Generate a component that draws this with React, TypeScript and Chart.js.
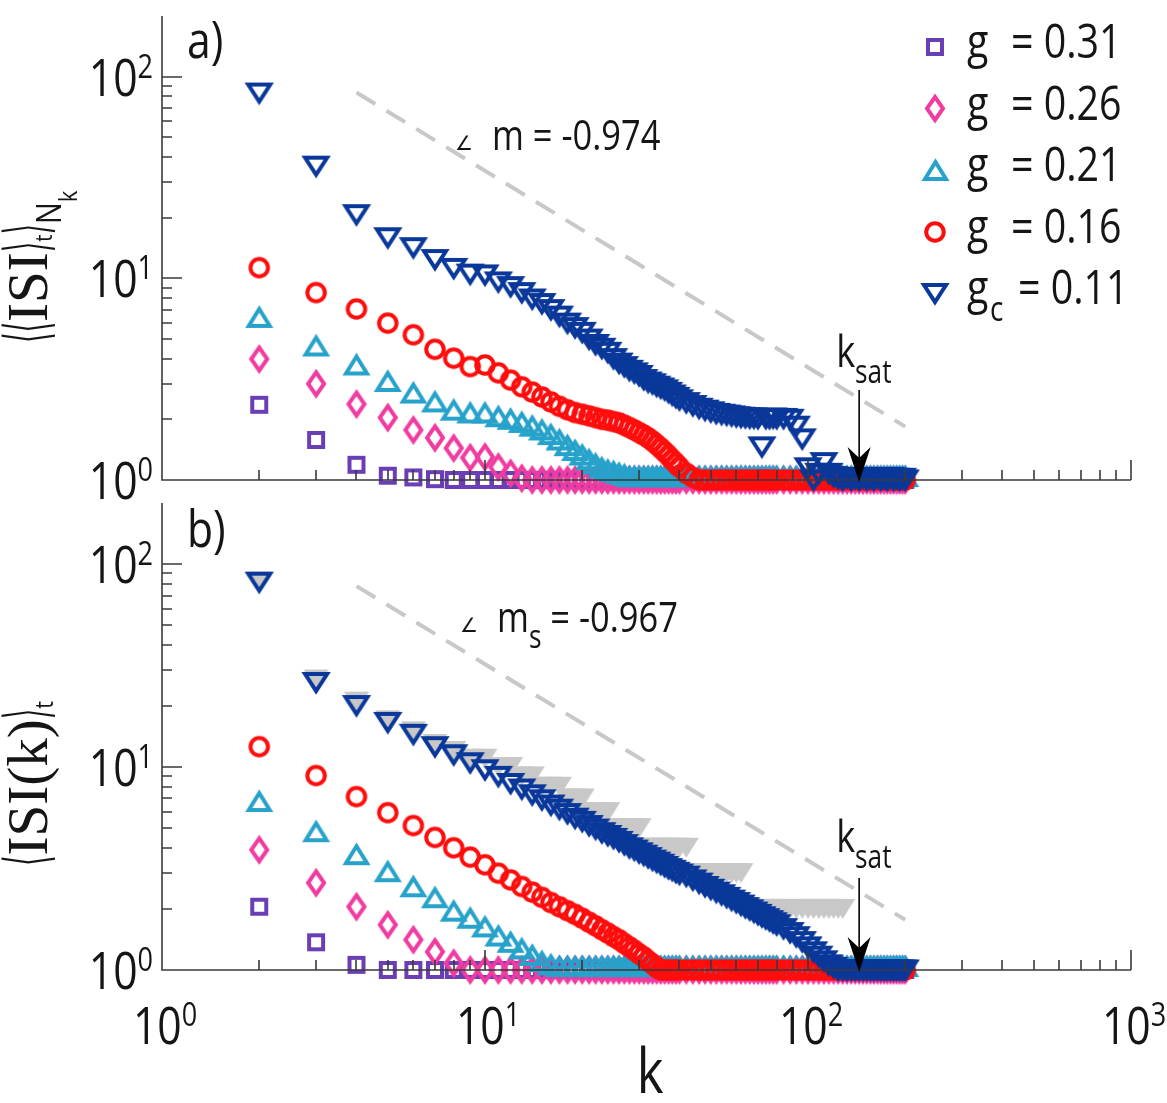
import React, { useEffect, useRef } from "react";
import { Chart, registerables } from "chart.js";

Chart.register(...registerables);

// ---------------- data ----------------
const K = [
  2, 3, 4, 5, 6, 7, 8, 9, 10, 11, 12, 13, 14, 15, 16, 17, 18, 19, 20, 21, 22, 23, 24, 25, 26, 27, 28, 29, 30, 31, 32, 33, 34, 35, 36, 37, 38, 39, 40,
  42, 44, 46, 48, 50, 52, 54, 56, 58, 60, 62, 64, 66, 68, 70, 72, 74, 76, 78, 80,
  84, 88, 92, 96, 100, 104, 108, 112, 116, 120, 124, 128, 132, 136, 140, 144, 148, 152, 156, 160, 164, 168, 172, 176, 180, 184, 188, 192, 196, 200,
];

// panel a)  <<ISI>_t>_{N_k}
const topPurple = [
  2.36, 1.58, 1.19, 1.05, 1.03, 1.01, 1, 1, 1,
  1, 1, 1, 1, 1, 1, 1, 1, 1, 1, 1, 1, 1, 1, 1, 1, 1, 1, 1, 1, 1, 1, 1, 1, 1, 1, 1, 1, 1, 1,
  1, 1, 1, 1, 1, 1, 1, 1, 1, 1, 1, 1, 1, 1, 1, 1, 1, 1, 1, 1,
  1, 1, 1, 1, 1, 1, 1, 1, 1, 1, 1, 1, 1, 1, 1, 1, 1, 1, 1, 1, 1, 1, 1, 1, 1, 1, 1, 1, 1, 1,
];
const topPink = [
  3.98, 3.0, 2.38, 2.04, 1.77, 1.62, 1.44, 1.29, 1.3, 1.16, 1.08, 1.02, 1,
  1, 1, 1, 1, 1, 1, 1, 1, 1, 1, 1, 1, 1, 1, 1, 1, 1, 1, 1, 1, 1, 1, 1, 1, 1, 1,
  1, 1, 1, 1, 1, 1, 1, 1, 1, 1, 1, 1, 1, 1, 1, 1, 1, 1, 1, 1,
  1, 1, 1, 1, 1, 1, 1, 1, 1, 1, 1, 1, 1, 1, 1, 1, 1, 1, 1, 1, 1, 1, 1, 1, 1, 1, 1, 1, 1, 1,
];
const topCyan = [
  6.4, 4.62, 3.72, 3.08, 2.7, 2.44, 2.22, 2.15, 2.15, 2.06, 2.0, 1.93, 1.85, 1.77, 1.68, 1.58, 1.48, 1.4, 1.33, 1.26, 1.2, 1.15, 1.12, 1.1, 1.08, 1.06,
  1.04, 1.04, 1.04, 1.04, 1.04, 1.04, 1.04, 1.04, 1.04, 1.04, 1.04, 1.04, 1.04,
  1.04, 1.04, 1.04, 1.04, 1.04, 1.04, 1.04, 1.04, 1.04, 1.04, 1.04, 1.04, 1.04, 1.04, 1.04, 1.04, 1.04, 1.04, 1.04, 1.04,
  1.04, 1.04, 1.04, 1.04, 1.04, 1.04, 1.04, 1.04, 1.04, 1.04, 1.04, 1.04, 1.04, 1.04, 1.04, 1.04, 1.04, 1.04, 1.04, 1.04, 1.04, 1.04, 1.04, 1.04, 1.04, 1.04, 1.04, 1.04, 1.04, 1.04,
];
const topRed = [
  11.3, 8.5, 7.05, 6.0, 5.25, 4.45, 4.02, 3.65, 3.72, 3.4,
  3.13, 2.9, 2.73, 2.58, 2.44, 2.32, 2.23, 2.16, 2.12, 2.08,
  2.04, 2.0, 1.98, 1.95, 1.92, 1.87, 1.82, 1.77, 1.72, 1.67,
  1.62, 1.56, 1.5, 1.44, 1.38, 1.32, 1.26, 1.21, 1.16,
  1.08, 1.03, 1, 1, 1, 1, 1, 1, 1, 1, 1, 1, 1, 1, 1, 1, 1, 1, 1, 1,
  1, 1, 1, 1, 1, 1, 1, 1, 1, 1, 1, 1, 1, 1, 1, 1, 1, 1, 1, 1, 1, 1, 1, 1, 1, 1, 1, 1, 1, 1,
];
const topBlue = [
  83, 36, 20.7, 15.9, 14.2, 12.4, 11.2, 10.5, 10.4, 9.6,
  9.1, 8.5, 7.9, 7.5, 7.0, 6.5, 6.0, 5.7, 5.4, 5.0,
  4.7, 4.5, 4.3, 4.0, 3.8, 3.65, 3.5, 3.4, 3.3, 3.15,
  3.06, 3.0, 2.92, 2.86, 2.8, 2.72, 2.64, 2.57, 2.5,
  2.42, 2.34, 2.27, 2.22, 2.18, 2.14, 2.12, 2.1, 2.08, 2.06, 2.05, 2.04, 2.03, 2.03, 2.02, 1.46, 2.02, 2.02, 2.03, 2.02,
  2.02, 2.0, 1.85, 1.6, 1.15, 1.0, 1.08, 1.22, 1.08, 1.04, 1.02, 1.0, 1.03, 1.0, 1.02, 1.0, 1.03, 1.0, 1.02, 1.0,
  1.03, 1.0, 1.02, 1.0, 1.03, 1.0, 1.02, 1.0, 1.02, 1.0,
];

// panel b)  <ISI(k)>_t
const botPurple = [
  2.05, 1.37, 1.06,
  1, 1, 1, 1, 1, 1, 1, 1, 1, 1, 1, 1, 1, 1, 1, 1, 1, 1, 1, 1, 1, 1, 1, 1, 1, 1, 1, 1, 1, 1, 1, 1, 1, 1, 1, 1,
  1, 1, 1, 1, 1, 1, 1, 1, 1, 1, 1, 1, 1, 1, 1, 1, 1, 1, 1, 1,
  1, 1, 1, 1, 1, 1, 1, 1, 1, 1, 1, 1, 1, 1, 1, 1, 1, 1, 1, 1, 1, 1, 1, 1, 1, 1, 1, 1, 1, 1,
];
const botPink = [
  3.91, 2.69, 2.05, 1.67, 1.41, 1.23, 1.08, 1.0,
  1, 1, 1, 1, 1, 1, 1, 1, 1, 1, 1, 1, 1, 1, 1, 1, 1, 1, 1, 1, 1, 1, 1, 1, 1, 1, 1, 1, 1, 1, 1,
  1, 1, 1, 1, 1, 1, 1, 1, 1, 1, 1, 1, 1, 1, 1, 1, 1, 1, 1, 1,
  1, 1, 1, 1, 1, 1, 1, 1, 1, 1, 1, 1, 1, 1, 1, 1, 1, 1, 1, 1, 1, 1, 1, 1, 1, 1, 1, 1, 1, 1,
];
const botCyan = [
  6.76, 4.8, 3.7, 3.05, 2.57, 2.27, 1.95, 1.8, 1.63, 1.47, 1.37, 1.27, 1.18, 1.1, 1.06,
  1.04, 1.04, 1.04, 1.04, 1.04, 1.04, 1.04, 1.04, 1.04, 1.04, 1.04, 1.04, 1.04, 1.04, 1.04, 1.04, 1.04, 1.04, 1.04, 1.04, 1.04, 1.04, 1.04, 1.04,
  1.04, 1.04, 1.04, 1.04, 1.04, 1.04, 1.04, 1.04, 1.04, 1.04, 1.04, 1.04, 1.04, 1.04, 1.04, 1.04, 1.04, 1.04, 1.04, 1.04,
  1.04, 1.04, 1.04, 1.04, 1.04, 1.04, 1.04, 1.04, 1.04, 1.04, 1.04, 1.04, 1.04, 1.04, 1.04, 1.04, 1.04, 1.04, 1.04, 1.04, 1.04, 1.04, 1.04, 1.04, 1.04, 1.04, 1.04, 1.04, 1.04, 1.04,
];
const botRed = [
  12.6, 9.08, 7.15, 5.96, 5.15, 4.5, 4.0, 3.6, 3.3, 3.0,
  2.78, 2.58, 2.42, 2.28, 2.15, 2.05, 1.96, 1.88, 1.8, 1.72,
  1.65, 1.58, 1.52, 1.46, 1.41, 1.35, 1.3, 1.25, 1.2, 1.16,
  1.11, 1.07, 1.03, 1.0, 1, 1, 1, 1, 1,
  1, 1, 1, 1, 1, 1, 1, 1, 1, 1, 1, 1, 1, 1, 1, 1, 1, 1, 1, 1,
  1, 1, 1, 1, 1, 1, 1, 1, 1, 1, 1, 1, 1, 1, 1, 1, 1, 1, 1, 1, 1, 1, 1, 1, 1, 1, 1, 1, 1, 1,
];
const botBlue = [
  81.5, 26.1, 20.1, 16.6, 14.5, 12.6, 11.5, 10.5, 9.7, 9.0,
  8.3, 7.8, 7.3, 6.9, 6.5, 6.2, 5.9, 5.6, 5.4, 5.15,
  4.95, 4.75, 4.6, 4.45, 4.3, 4.15, 4.0, 3.9, 3.78, 3.68,
  3.58, 3.48, 3.4, 3.32, 3.24, 3.16, 3.1, 3.03, 2.97,
  2.9, 2.78, 2.68, 2.58, 2.5, 2.42, 2.35, 2.28, 2.21, 2.15, 2.09, 2.03, 1.98, 1.93, 1.88, 1.83, 1.79, 1.75, 1.71, 1.67,
  1.6, 1.53, 1.46, 1.38, 1.3, 1.23, 1.17, 1.11, 1.06, 1.03, 1.0,
  1, 1, 1, 1, 1, 1, 1, 1, 1, 1, 1, 1, 1, 1, 1, 1, 1, 1, 1,
];
const botGray = [
  82, 27, 21, 17, 15, 13, 12, 11, 11, 10,
  10, 9, 9, 8, 8, 8, 7, 7, 7, 6,
  6, 6, 6, 5, 5, 5, 5, 5, 5, 4,
  4, 4, 4, 4, 4, 4, 4, 4, 4,
  4, 3, 3, 3, 3, 3, 3, 3, 3, 3, 3, 2, 2, 2, 2, 2, 2, 2, 2, 2,
  2, 2, 2, 2, 2, 2, 2, 2, 2, 2, 2, 2,
  1, 1, 1, 1, 1, 1, 1, 1, 1, 1, 1, 1, 1, 1, 1, 1, 1, 1,
];

// fitted power laws (dashed guides)
const fitK = [4, 200];
const fitTop = [83.5, 1.84];
const fitBot = [77.9, 1.77];
const slopeTop = "-0.974";
const slopeBot = "-0.967";
const kSat = 144;

// legend
const legSym = ["g", "g", "g", "g", "g"];
const legSub = ["", "", "", "", "c"];
const legVal = ["0.31", "0.26", "0.21", "0.16", "0.11"];

// ticks
const xMajor = [1, 10, 100, 1000];
const xExp = ["0", "1", "2", "3"];
const xMinor = [2, 3, 4, 5, 6, 7, 8, 9, 20, 30, 40, 50, 60, 70, 80, 90, 200, 300, 400, 500, 600, 700, 800, 900];
const yMajor = [1, 10, 100];
const yExp = ["0", "1", "2"];
const yMinor = [2, 3, 4, 5, 6, 7, 8, 9, 20, 30, 40, 50, 60, 70, 80, 90];

// ---------------- styles ----------------
const C_PURPLE = "#6a3fb5";
const C_PINK = "#f03ca0";
const C_CYAN = "#27a2cb";
const C_RED = "#ff0d0d";
const C_BLUE = "#0a389a";
const C_GRAY = "#c8c8c8";
const INK = "#151515";
const AXIS = "#3a3a3a";
const SANS = '"Open Sans", "Noto Sans", "DejaVu Sans", sans-serif';
const SERIF = '"Liberation Serif", "DejaVu Serif", serif';
const BRK = '"DejaVu Sans", "Noto Sans", sans-serif';

type Piece = { t: string; size: number; fam?: string; dy?: number; dx?: number; sx?: number };

function rich(
  ctx: CanvasRenderingContext2D,
  pieces: Piece[],
  x: number,
  y: number,
  align: "left" | "center" | "right" = "left",
  rot = 0,
  sxDef = 0.82
) {
  ctx.save();
  ctx.translate(x, y);
  if (rot) ctx.rotate(rot);
  ctx.fillStyle = INK;
  ctx.textAlign = "left";
  ctx.textBaseline = "alphabetic";
  const ws = pieces.map((p) => {
    ctx.font = `${p.size}px ${p.fam ?? SANS}`;
    return ctx.measureText(p.t).width * (p.sx ?? sxDef) + (p.dx ?? 0);
  });
  const W = ws.reduce((a, b) => a + b, 0);
  let cx = align === "left" ? 0 : align === "center" ? -W / 2 : -W;
  pieces.forEach((p, i) => {
    ctx.font = `${p.size}px ${p.fam ?? SANS}`;
    ctx.save();
    ctx.translate(cx + (p.dx ?? 0), p.dy ?? 0);
    ctx.scale(p.sx ?? sxDef, 1);
    ctx.fillText(p.t, 0, 0);
    ctx.restore();
    cx += ws[i];
  });
  ctx.restore();
}

function makeMarker(shape: string, color: string, w: number, h: number, lw: number, filled = false) {
  const c = document.createElement("canvas");
  const pad = lw + 4;
  c.width = Math.round(w + 2 * pad);
  c.height = Math.round(h + 2 * pad);
  const g = c.getContext("2d")!;
  const cx = c.width / 2;
  const cy = c.height / 2;
  g.lineWidth = lw;
  g.strokeStyle = color;
  g.fillStyle = color;
  g.lineJoin = "miter";
  g.beginPath();
  if (shape === "square") {
    g.rect(cx - w / 2, cy - h / 2, w, h);
  } else if (shape === "diamond") {
    g.moveTo(cx, cy - h / 2);
    g.lineTo(cx + w / 2, cy);
    g.lineTo(cx, cy + h / 2);
    g.lineTo(cx - w / 2, cy);
    g.closePath();
  } else if (shape === "up") {
    g.moveTo(cx, cy - h / 2);
    g.lineTo(cx + w / 2, cy + h / 2);
    g.lineTo(cx - w / 2, cy + h / 2);
    g.closePath();
  } else if (shape === "down") {
    g.moveTo(cx - w / 2, cy - h / 2);
    g.lineTo(cx + w / 2, cy - h / 2);
    g.lineTo(cx, cy + h / 2);
    g.closePath();
  } else {
    g.ellipse(cx, cy, w / 2, h / 2, 0, 0, Math.PI * 2);
  }
  if (filled) g.fill();
  else g.stroke();
  return c;
}

type PanelCfg = {
  id: string;
  tag: string;
  tagY: number;
  yTitle: Piece[];
  yTitleStart: number;
  slope: Piece[];
  slopeY: number;
  angleX: number;
  textX: number;
  ksatY: number;
  arrowLen: number;
  xLabels: boolean;
  legend: HTMLCanvasElement[] | null;
};

function panelPlugin(p: PanelCfg) {
  return {
    id: p.id,
    afterDatasetsDraw(chart: any) {
      const ctx: CanvasRenderingContext2D = chart.ctx;
      const a = chart.chartArea;
      const xs = chart.scales.x;
      const ys = chart.scales.y;
      ctx.save();
      // axes + inward ticks
      ctx.strokeStyle = AXIS;
      ctx.lineWidth = 1.6;
      ctx.beginPath();
      ctx.moveTo(a.left, a.top);
      ctx.lineTo(a.left, a.bottom);
      ctx.lineTo(a.right, a.bottom);
      xMajor.forEach((v) => {
        const px = Math.round(xs.getPixelForValue(v));
        ctx.moveTo(px, a.bottom);
        ctx.lineTo(px, a.bottom - 20);
      });
      xMinor.forEach((v) => {
        const px = Math.round(xs.getPixelForValue(v));
        ctx.moveTo(px, a.bottom);
        ctx.lineTo(px, a.bottom - 10);
      });
      yMajor.forEach((v) => {
        const py = Math.round(ys.getPixelForValue(v));
        ctx.moveTo(a.left, py);
        ctx.lineTo(a.left + 20, py);
      });
      yMinor.forEach((v) => {
        const py = Math.round(ys.getPixelForValue(v));
        ctx.moveTo(a.left, py);
        ctx.lineTo(a.left + 10, py);
      });
      ctx.stroke();

      // y tick labels
      yMajor.forEach((v, i) => {
        const py = ys.getPixelForValue(v);
        rich(ctx, [{ t: "10", size: 52 }, { t: yExp[i], size: 33, dy: -18 }], a.left - 9, py + 19, "right");
      });
      // x tick labels
      if (p.xLabels) {
        xMajor.forEach((v, i) => {
          const px = xs.getPixelForValue(v);
          rich(ctx, [{ t: "10", size: 52 }, { t: xExp[i], size: 33, dy: -18 }], px + 3, a.bottom + 74, "center");
        });
        rich(ctx, [{ t: "k", size: 62 }], 650, a.bottom + 123, "center");
      }

      // panel tag
      rich(ctx, [{ t: p.tag, size: 52 }], 187, p.tagY, "left");

      // y title (rotated)
      rich(ctx, p.yTitle, 47, p.yTitleStart, "left", -Math.PI / 2, 1);

      // slope annotation
      rich(ctx, [{ t: "∠", size: 20, fam: BRK, sx: 1 }], p.angleX, p.slopeY, "left");
      rich(ctx, p.slope, p.textX, p.slopeY, "left");

      // k_sat arrow
      const kx = xs.getPixelForValue(kSat);
      const tip = ys.getPixelForValue(1);
      ctx.strokeStyle = "#000";
      ctx.lineWidth = 1.6;
      ctx.beginPath();
      ctx.moveTo(kx, tip - p.arrowLen);
      ctx.lineTo(kx, tip - 20);
      ctx.stroke();
      ctx.fillStyle = "#000";
      ctx.beginPath();
      ctx.moveTo(kx, tip + 2);
      ctx.lineTo(kx - 11.5, tip - 33);
      ctx.lineTo(kx, tip - 22);
      ctx.lineTo(kx + 11.5, tip - 33);
      ctx.closePath();
      ctx.fill();
      rich(ctx, [{ t: "k", size: 44 }, { t: "sat", size: 32, dy: 16 }], kx - 23, p.ksatY, "left");

      // legend
      if (p.legend) {
        p.legend.forEach((m, i) => {
          const cy = 47 + i * 61.5;
          ctx.drawImage(m, Math.round(935 - m.width / 2), Math.round(cy - m.height / 2));
          const base = 58 + i * 61.5;
          rich(ctx, [{ t: legSym[i], size: 48 }], 967, base, "left");
          if (legSub[i]) {
            rich(ctx, [{ t: legSub[i], size: 34 }], 990, base + 17, "left");
            rich(ctx, [{ t: "= " + legVal[i], size: 48 }], 1018, base, "left");
          } else {
            rich(ctx, [{ t: "= " + legVal[i], size: 48 }], 1011, base, "left");
          }
        });
      }
      ctx.restore();
    },
  };
}

function series(ys: number[], style: HTMLCanvasElement, order: number) {
  return {
    data: K.map((k, i) => ({ x: k, y: ys[i] })),
    pointStyle: style,
    pointRadius: 10,
    pointHoverRadius: 10,
    showLine: false,
    clip: false as const,
    order,
  };
}

function fitLine(ys: number[]) {
  return {
    data: fitK.map((k, i) => ({ x: k, y: ys[i] })),
    showLine: true,
    borderColor: C_GRAY,
    borderWidth: 4,
    borderDash: [22, 13],
    pointRadius: 0,
    clip: false as const,
    order: 10,
  };
}

function makeChart(canvas: HTMLCanvasElement, datasets: any[], padding: any, plugin: any) {
  return new Chart(canvas, {
    type: "scatter",
    data: { datasets },
    options: {
      animation: false,
      responsive: false,
      devicePixelRatio: 1,
      events: [],
      layout: { padding },
      plugins: { legend: { display: false }, tooltip: { enabled: false } },
      scales: {
        x: { type: "logarithmic", min: 1, max: 1000, display: false },
        y: { type: "logarithmic", min: 1, max: 200, display: false },
      },
    } as any,
    plugins: [plugin],
  });
}

export default function App() {
  const topRef = useRef<HTMLCanvasElement>(null);
  const botRef = useRef<HTMLCanvasElement>(null);

  useEffect(() => {
    const LW = 4;
    const mSquare = makeMarker("square", C_PURPLE, 14, 14, LW);
    const mDiamond = makeMarker("diamond", C_PINK, 16, 23, LW);
    const mUp = makeMarker("up", C_CYAN, 21, 17, LW);
    const mCircle = makeMarker("circle", C_RED, 17.5, 17.5, LW);
    const mDown = makeMarker("down", C_BLUE, 22, 17, LW);
    const mGray = makeMarker("down", C_GRAY, 25, 20, LW, true);

    const top = makeChart(
      topRef.current!,
      [
        series(topBlue, mDown, 0),
        series(topRed, mCircle, 1),
        series(topCyan, mUp, 2),
        series(topPink, mDiamond, 3),
        series(topPurple, mSquare, 4),
        fitLine(fitTop),
      ],
      { left: 162, right: 36, top: 16, bottom: 30 },
      panelPlugin({
        id: "panelA",
        tag: "a)",
        tagY: 58,
        yTitle: [
          { t: "⟨", size: 60, fam: BRK, sx: 0.45 },
          { t: "⟨", size: 60, fam: BRK, sx: 0.45 },
          { t: "ISI", size: 57, fam: SERIF },
          { t: "⟩", size: 60, fam: BRK, sx: 0.45 },
          { t: "t", size: 24, fam: SANS, dy: 5, sx: 0.85 },
          { t: "⟩", size: 60, fam: BRK, sx: 0.45 },
          { t: "N", size: 34, fam: SANS, dy: 14, sx: 0.85 },
          { t: "k", size: 26, fam: SANS, dy: 30, sx: 0.85 },
        ],
        yTitleStart: 343,
        slope: [{ t: "m = " + slopeTop, size: 42 }],
        slopeY: 150,
        angleX: 455,
        textX: 492,
        ksatY: 367,
        arrowLen: 90,
        xLabels: false,
        legend: [mSquare, mDiamond, mUp, mCircle, mDown],
      })
    );

    const bot = makeChart(
      botRef.current!,
      [
        series(botBlue, mDown, 0),
        series(botRed, mCircle, 1),
        series(botCyan, mUp, 2),
        series(botPink, mDiamond, 3),
        series(botPurple, mSquare, 4),
        series(botGray, mGray, 5),
        fitLine(fitBot),
      ],
      { left: 162, right: 36, top: 13, bottom: 133 },
      panelPlugin({
        id: "panelB",
        tag: "b)",
        tagY: 57,
        yTitle: [
          { t: "⟨", size: 60, fam: BRK, sx: 0.45 },
          { t: "ISI(k)", size: 57, fam: SERIF },
          { t: "⟩", size: 60, fam: BRK, sx: 0.45 },
          { t: "t", size: 26, fam: SANS, dy: 6, sx: 0.85 },
        ],
        yTitleStart: 376,
        slope: [
          { t: "m", size: 42 },
          { t: "s", size: 32, dy: 16 },
          { t: " = " + slopeBot, size: 42 },
        ],
        slopeY: 142,
        angleX: 460,
        textX: 497,
        ksatY: 362,
        arrowLen: 92,
        xLabels: true,
        legend: null,
      })
    );

    return () => {
      top.destroy();
      bot.destroy();
    };
  }, []);

  return (
    <div style={{ position: "absolute", left: 0, top: 0, width: 1167, height: 1103, background: "#fff" }}>
      <canvas ref={topRef} width={1167} height={510} style={{ position: "absolute", left: 0, top: 0, display: "block" }} />
      <canvas ref={botRef} width={1167} height={613} style={{ position: "absolute", left: 0, top: 490, display: "block" }} />
    </div>
  );
}
